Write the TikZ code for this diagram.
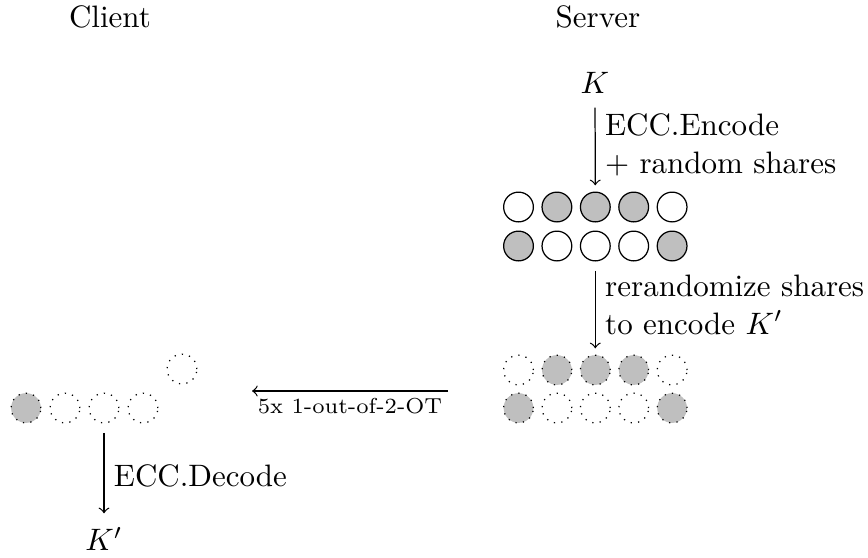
\documentclass[tikz,border=0pt]{standalone}
\begin{document}
\begin{tikzpicture}[x=0.3226pt,y=-0.3226pt,
  share/.style={circle, draw, minimum size=9.6pt, inner sep=0pt},
  shon/.style={share, fill=gray!50},
  shoff/.style={share},
  dshon/.style={share, fill=gray!50, dotted},
  dshoff/.style={share, dotted},
  flow/.style={->},
  lbl/.style={right, align=left, inner sep=3pt}]
\useasboundingbox (0,0) rectangle (868,557);
% titles
\node[anchor=base] (client) at (110,27) {Client};
\node[anchor=base] (server) at (598,27) {Server};
\node (K) at (595,83) {$K$};
% server rows
\node[shoff] (s11) at (518.5,207) {};
\node[shon]  (s12) at (556.9,207) {};
\node[shon]  (s13) at (595.3,207) {};
\node[shon]  (s14) at (633.7,207) {};
\node[shoff] (s15) at (672.1,207) {};
\node[shon]  (s21) at (518.5,246) {};
\node[shoff] (s22) at (556.9,246) {};
\node[shoff] (s23) at (595.3,246) {};
\node[shoff] (s24) at (633.7,246) {};
\node[shon]  (s25) at (672.1,246) {};
% rerandomized rows
\node[dshoff] (d11) at (518.5,370) {};
\node[dshon]  (d12) at (556.9,370) {};
\node[dshon]  (d13) at (595.3,370) {};
\node[dshon]  (d14) at (633.7,370) {};
\node[dshoff] (d15) at (672.1,370) {};
\node[dshon]  (d21) at (518.5,408) {};
\node[dshoff] (d22) at (556.9,408) {};
\node[dshoff] (d23) at (595.3,408) {};
\node[dshoff] (d24) at (633.7,408) {};
\node[dshon]  (d25) at (672.1,408) {};
% client
\node[dshon]  (c1) at (26,408) {};
\node[dshoff] (c2) at (65,408) {};
\node[dshoff] (c3) at (104,408) {};
\node[dshoff] (c4) at (143,408) {};
\node[dshoff] (c5) at (182,369) {};
\node (Kp) at (104,539) {$K'$};
% arrows
\draw[flow, shorten <=1pt, shorten >=2pt] (K) -- (s13)
  node[lbl, midway, yshift=1pt] {ECC.Encode\\+ random shares};
\draw[flow, shorten <=3pt, shorten >=2pt] (s23) -- (d13)
  node[lbl, midway, yshift=1pt] {rerandomize shares\\to encode $K'$};
\coordinate (otR) at (448,391);
\coordinate (otL) at (252,391);
\draw[flow] (otR) -- (otL)
  node[midway, below, inner sep=2pt, font=\scriptsize] {5x 1-out-of-2-OT};
\draw[flow, shorten <=3pt, shorten >=1pt] (c3) -- (Kp)
  node[lbl, midway, yshift=-2pt] {ECC.Decode};
\end{tikzpicture}
\end{document}
